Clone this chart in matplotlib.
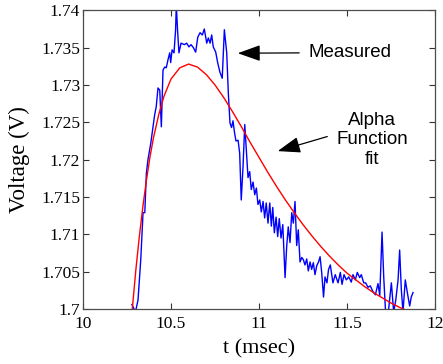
import numpy as np
import matplotlib
matplotlib.use('Agg')
import matplotlib.pyplot as plt

# measured trace (t in msec, V in volts)
t_meas = [10.278, 10.298, 10.3125, 10.328, 10.341, 10.351, 10.360, 10.369, 10.385, 10.398,
          10.407, 10.416, 10.426, 10.436, 10.445, 10.4545, 10.464, 10.473, 10.483, 10.4926,
          10.498, 10.506, 10.517, 10.526, 10.530, 10.537, 10.545, 10.557, 10.576, 10.589,
          10.602, 10.614, 10.627, 10.640, 10.652, 10.665, 10.678, 10.689, 10.703, 10.712,
          10.722, 10.731, 10.740, 10.754, 10.765, 10.778, 10.791, 10.803, 10.8165, 10.8256,
          10.835, 10.844, 10.852, 10.861, 10.869, 10.881, 10.890, 10.899, 10.909, 10.919,
          10.928, 10.9375, 10.947, 10.956, 10.966, 10.9756, 10.985, 10.994, 11.004, 11.013,
          11.023, 11.032, 11.041, 11.051, 11.061, 11.070, 11.078, 11.087, 11.097, 11.106,
          11.115, 11.125, 11.135, 11.148, 11.157, 11.166, 11.176, 11.186, 11.195, 11.2045,
          11.214, 11.223, 11.233, 11.243, 11.252, 11.261, 11.271, 11.280, 11.290, 11.299,
          11.3085, 11.318, 11.328, 11.338, 11.347, 11.356, 11.3665, 11.375, 11.386, 11.395,
          11.405, 11.420, 11.433, 11.449, 11.462, 11.4716, 11.483, 11.496, 11.510, 11.524,
          11.534, 11.547, 11.5585, 11.572, 11.581, 11.595, 11.606, 11.619, 11.632, 11.648,
          11.661, 11.676, 11.686, 11.699, 11.7085, 11.719, 11.733, 11.752, 11.765, 11.777,
          11.790, 11.799, 11.8085, 11.818, 11.831, 11.8426, 11.856, 11.865, 11.875]
v_meas = [1.7006, 1.6996, 1.7012, 1.7066, 1.7129, 1.7129, 1.7182, 1.7200, 1.7222, 1.7244,
          1.7260, 1.7271, 1.7296, 1.7293, 1.7244, 1.7320, 1.7324, 1.7323, 1.7334, 1.7343,
          1.7330, 1.7347, 1.7343, 1.7374, 1.7407, 1.7374, 1.7343, 1.7356, 1.7354, 1.7356,
          1.7351, 1.7354, 1.7350, 1.7344, 1.7364, 1.7370, 1.7367, 1.7375, 1.7356, 1.7363,
          1.7356, 1.7367, 1.7351, 1.7344, 1.7330, 1.7317, 1.7309, 1.7374, 1.7343, 1.7289,
          1.7249, 1.7243, 1.7252, 1.7236, 1.7225, 1.7226, 1.7209, 1.7146, 1.7190, 1.7247,
          1.7213, 1.7176, 1.7184, 1.7160, 1.7170, 1.7153, 1.7162, 1.7140, 1.7146, 1.7130,
          1.7144, 1.7122, 1.7142, 1.7115, 1.7142, 1.7111, 1.7136, 1.7102, 1.7123, 1.7097,
          1.7121, 1.7095, 1.7113, 1.7042, 1.7083, 1.7110, 1.7089, 1.7129, 1.7115, 1.7144,
          1.7085, 1.7106, 1.7063, 1.7069, 1.7066, 1.7059, 1.7067, 1.7051, 1.7063, 1.7053,
          1.7062, 1.7046, 1.7058, 1.7063, 1.7070, 1.7049, 1.7016, 1.7043, 1.7035, 1.7053,
          1.7059, 1.7035, 1.7046, 1.7035, 1.7049, 1.7033, 1.7046, 1.7039, 1.7043, 1.7036,
          1.7046, 1.7039, 1.7049, 1.7042, 1.7046, 1.7035, 1.7035, 1.7029, 1.7031, 1.7023,
          1.7019, 1.7034, 1.7018, 1.7103, 1.7043, 1.6996, 1.6992, 1.7035, 1.6996, 1.7012,
          1.7039, 1.7079, 1.7026, 1.6996, 1.7039, 1.7022, 1.7004, 1.7016, 1.7022]

# alpha function fit curve
t_fit = [10.27, 10.28, 10.30, 10.32, 10.34, 10.36, 10.38, 10.40, 10.43, 10.46, 10.50,
         10.55, 10.60, 10.65, 10.70, 10.75, 10.80, 10.85, 10.90, 10.95, 11.00, 11.05,
         11.10, 11.15, 11.20, 11.25, 11.30, 11.35, 11.40, 11.45, 11.50, 11.55, 11.60,
         11.65, 11.70, 11.75, 11.80, 11.85]
v_fit = [1.6972, 1.7000, 1.7052, 1.7097, 1.7137, 1.7172, 1.7203, 1.7229, 1.7260, 1.7285,
         1.7308, 1.7323, 1.7328, 1.7324, 1.7314, 1.7300, 1.7283, 1.7264, 1.7244, 1.7223,
         1.7203, 1.7183, 1.7164, 1.7146, 1.7129, 1.7113, 1.7098, 1.7084, 1.7071, 1.7059,
         1.7048, 1.7039, 1.7030, 1.7022, 1.7015, 1.7008, 1.7002, 1.6997]

x_ticks = [10, 10.5, 11, 11.5, 12]
x_labels = ['10', '10.5', '11', '11.5', '12']
y_ticks = [1.7, 1.705, 1.71, 1.715, 1.72, 1.725, 1.73, 1.735, 1.74]
y_labels = ['1.7', '1.705', '1.71', '1.715', '1.72', '1.725', '1.73', '1.735', '1.74']

serif = 'Liberation Serif'
sans = 'Liberation Sans'

fig = plt.figure(figsize=(4.43, 3.64), dpi=100)
ax = fig.add_axes([0.1874, 0.1511, 0.7946, 0.8206])

ax.plot(t_meas, v_meas, color='#0000ff', lw=1.0)
ax.plot(t_fit, v_fit, color='#ff0000', lw=1.0)

ax.set_xlim(10, 12)
ax.set_ylim(1.7, 1.74)
ax.set_xticks(x_ticks)
ax.set_xticklabels(x_labels, fontfamily=serif, fontsize=12.5)
ax.set_yticks(y_ticks)
ax.set_yticklabels(y_labels, fontfamily=serif, fontsize=12.5)
ax.tick_params(direction='in', top=True, right=True, length=4, width=0.8, colors='0.2',
               labelcolor='black')
ax.tick_params(axis='x', pad=5)
ax.tick_params(axis='y', pad=2)
for s in ax.spines.values():
    s.set_color('0.3')
    s.set_linewidth(0.9)

ax.set_xlabel('t (msec)', fontfamily=serif, fontsize=16, labelpad=5)
ax.set_ylabel('Voltage (V)', fontfamily=serif, fontsize=16.5, labelpad=8)

# annotations
arrow = dict(arrowstyle='-|>,head_length=1.4,head_width=0.5', color='black', lw=0.9)
ax.annotate('', xy=(10.8636, 1.73425), xytext=(11.244, 1.7343), arrowprops=arrow)
ax.text(11.517, 1.7344, 'Measured', fontfamily=sans, fontsize=13.5, ha='center', va='center')

ax.annotate('', xy=(11.091, 1.72104), xytext=(11.403, 1.7232), arrowprops=arrow)
ax.text(11.642, 1.72265, 'Alpha\nFunction\nfit', fontfamily=sans, fontsize=13.5,
        ha='center', va='center', linespacing=1.2)

fig.savefig('out.png', dpi=100)
